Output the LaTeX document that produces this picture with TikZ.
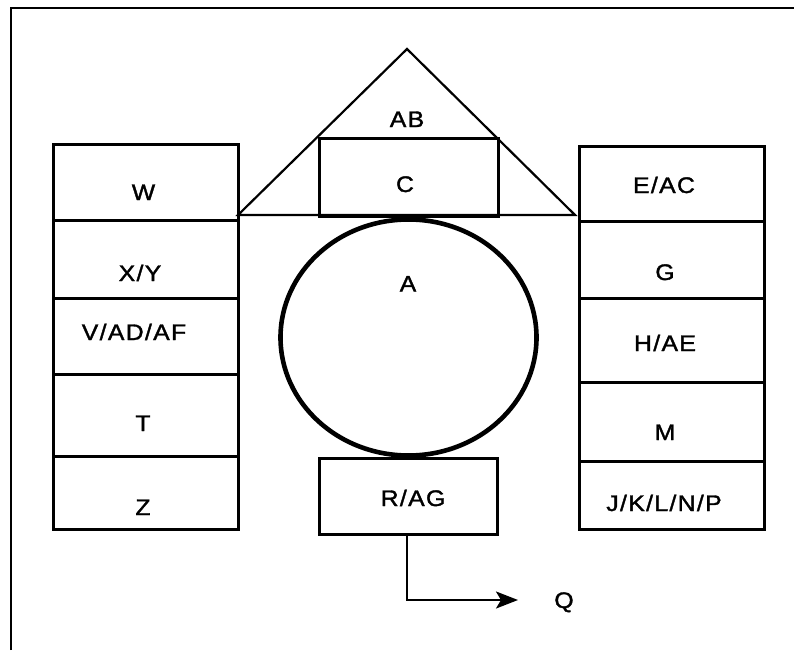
\documentclass[tikz,border=0pt]{standalone}
\usepackage{fontspec}
\setmainfont{Liberation Sans}[LetterSpace=6,FakeStretch=1.1,FakeBold=1.6]
\usetikzlibrary{arrows.meta,shapes.geometric}
\tikzset{
  cell/.style={draw, line width=2.6pt, inner sep=0pt, anchor=north west},
  lbl/.style={inner sep=0pt, anchor=base, font=\fontsize{22.5}{22.5}\selectfont},
  thin/.style={line width=2.2pt},
}
\begin{document}
\begin{tikzpicture}[x=1pt,y=-1pt, line join=miter]
\useasboundingbox (0,0) rectangle (794,650);
% frame
\draw[line width=2.8pt] (11,650) -- (11,8) -- (794,8);
% left column
\node[cell, minimum width=185pt, minimum height=76pt] (w) at (52,143) {};
\node[cell, minimum width=185pt, minimum height=78pt] (xy) at (52,219) {};
\node[cell, minimum width=185pt, minimum height=76pt] (v) at (52,297) {};
\node[cell, minimum width=185pt, minimum height=82pt] (t) at (52,373) {};
\node[cell, minimum width=185pt, minimum height=73pt] (z) at (52,455) {};
\node[lbl] (lw) at (143.5,200) {W};
\node[lbl] (lxy) at (140,281) {X/Y};
\node[lbl] (lv) at (134,340) {V/AD/AF};
\node[lbl] (lt) at (143,431) {T};
\node[lbl] (lz) at (143,515) {Z};
% right column
\node[cell, minimum width=185pt, minimum height=75pt] (e) at (578,145) {};
\node[cell, minimum width=185pt, minimum height=77pt] (g) at (578,220) {};
\node[cell, minimum width=185pt, minimum height=84pt] (h) at (578,297) {};
\node[cell, minimum width=185pt, minimum height=79pt] (m) at (578,381) {};
\node[cell, minimum width=185pt, minimum height=68pt] (j) at (578,460) {};
\node[lbl] (le) at (664,193) {E/AC};
\node[lbl] (lg) at (665,280) {G};
\node[lbl] (lh) at (665,351) {H/AE};
\node[lbl] (lm) at (665,440) {M};
\node[lbl] (lj) at (664,511) {J/K/L/N/P};
% roof
\coordinate (apex) at (407,49);
\coordinate (bl) at (238,215);
\coordinate (br) at (575,215);
\draw[thin] (bl) -- (apex) -- (br) -- cycle;
\node[cell, minimum width=179pt, minimum height=78pt] (c) at (318,137) {};
\node[lbl] (lab) at (407,127) {AB};
\node[lbl] (lc) at (405,192) {C};
% circle
\node[draw, ellipse, line width=4.6pt, minimum width=256pt, minimum height=236pt, inner sep=0pt] (a) at (408.5,337.5) {};
\node[lbl] (la) at (408,291.5) {A};
% R/AG
\node[cell, minimum width=178pt, minimum height=76pt] (r) at (318,457) {};
\node[lbl] (lr) at (413,506) {R/AG};
% arrow to Q
\node[lbl] (q) at (564,608) {Q};
\coordinate (rb) at (407,533);
\coordinate (corner) at (407,600);
\coordinate (tip) at (518,600);
\draw[line width=2.4pt, -{Stealth[length=22pt,width=17pt,inset=5pt]}] (rb) -- (corner) -- (tip);
\end{tikzpicture}
\end{document}
